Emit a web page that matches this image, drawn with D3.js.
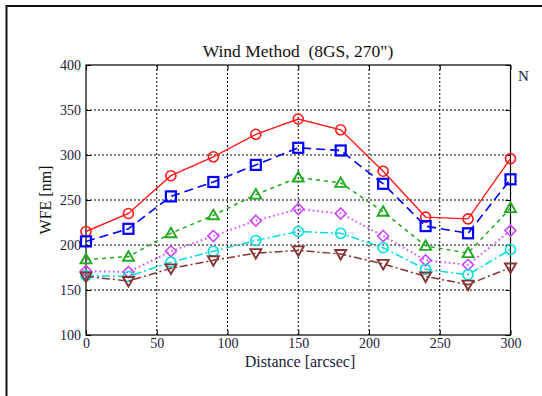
<!DOCTYPE html>
<html>
<head>
<meta charset="utf-8">
<script src="https://cdn.jsdelivr.net/npm/d3@7"></script>
<style>
  body { margin: 0; background: #fff; }
  svg { display: block; }
  text { font-family: "Liberation Serif", "Times New Roman", "DejaVu Serif", serif; }
</style>
</head>
<body>
<svg id="chart" width="542" height="396"></svg>
<script>
// distance samples (arcsec)
const distances = [0, 30, 60, 90, 120, 150, 180, 210, 240, 270, 300];
const xTicks = [0, 50, 100, 150, 200, 250, 300];
const yTicks = [100, 150, 200, 250, 300, 350, 400];

// WFE values per curve (nm)
const redVals     = [215, 235, 277, 298, 323, 340, 328, 282, 231, 229, 296];
const blueVals    = [204, 218, 254, 270, 289, 308, 305, 268, 221, 213, 273];
const greenVals   = [184, 187, 213, 233, 256, 275, 269, 237, 199, 191, 241];
const magentaVals = [171, 170, 193, 210, 227, 240, 235, 210, 183, 178, 216];
const cyanVals    = [166, 165, 181, 193, 205, 215, 213, 197, 173, 167, 195];
const brownVals   = [165, 160, 174, 183, 191, 194, 190, 179, 165, 156, 175];

const series = [
  { vals: redVals,     color: "#ff1a1a", dash: null,      marker: "circle",   sw: 1.4 },
  { vals: blueVals,    color: "#0000ff", dash: "9,5",     marker: "square",   sw: 1.6 },
  { vals: greenVals,   color: "#22aa22", dash: "4,4",     marker: "triangle", sw: 1.5 },
  { vals: magentaVals, color: "#cc44ff", dash: "1.5,3",   marker: "diamond",  sw: 1.9 },
  { vals: cyanVals,    color: "#00dddd", dash: "8,3,2,3", marker: "circle",   sw: 1.5 },
  { vals: brownVals,   color: "#883333", dash: "8,3,2,3", marker: "down",     sw: 1.5 }
];

const serif = "'Liberation Serif', 'Times New Roman', 'DejaVu Serif', serif";
const margin = { top: 65, left: 86, right: 542 - 510.5, bottom: 396 - 335 };
const width = 542, height = 396;

const svg = d3.select("#chart");

// outer figure frame (cut off on the right and bottom)
svg.append("rect")
  .attr("x", 6.5).attr("y", 6)
  .attr("width", 560).attr("height", 420)
  .attr("fill", "none").attr("stroke", "#111").attr("stroke-width", 2);

const x = d3.scaleLinear().domain([0, 300]).range([margin.left, width - margin.right]);
const y = d3.scaleLinear().domain([100, 400]).range([height - margin.bottom, margin.top]);

// grid
const grid = svg.append("g").attr("stroke", "#000").attr("stroke-width", 1).attr("stroke-dasharray", "2,2");
grid.selectAll(".gx").data(xTicks.slice(1, -1)).join("line")
  .attr("x1", d => x(d)).attr("x2", d => x(d))
  .attr("y1", y(100)).attr("y2", y(400));
grid.selectAll(".gy").data(yTicks.slice(1, -1)).join("line")
  .attr("y1", d => y(d)).attr("y2", d => y(d))
  .attr("x1", x(0)).attr("x2", x(300));

// axes (ticks pointing inward, box around)
const axisStyle = g => {
  g.attr("font-family", serif);
  g.select(".domain").remove();
  g.selectAll("line").attr("stroke", "#000");
  g.selectAll("text").attr("font-size", 14).attr("fill", "#1a1a3a").attr("font-family", serif);
};
svg.append("g").attr("transform", `translate(0,${y(100)})`)
  .call(d3.axisBottom(x).tickValues(xTicks).tickSize(-5).tickPadding(4))
  .call(axisStyle)
  .call(g => g.selectAll("text").attr("dy", null).attr("y", 13));
svg.append("g").attr("transform", `translate(${x(0)},0)`)
  .call(d3.axisLeft(y).tickValues(yTicks).tickSize(-5).tickPadding(5))
  .call(axisStyle);
svg.append("g").attr("transform", `translate(0,${y(400)})`)
  .call(d3.axisTop(x).tickValues(xTicks).tickSize(-5).tickFormat(""))
  .call(axisStyle);
svg.append("g").attr("transform", `translate(${x(300)},0)`)
  .call(d3.axisRight(y).tickValues(yTicks).tickSize(-5).tickFormat(""))
  .call(axisStyle);

svg.append("rect")
  .attr("x", x(0)).attr("y", y(400))
  .attr("width", x(300) - x(0)).attr("height", y(100) - y(400))
  .attr("fill", "none").attr("stroke", "#000").attr("stroke-width", 1.2);

// curves
const line = d3.line().x((d, i) => x(distances[i])).y(d => y(d));

series.forEach(s => {
  svg.append("path")
    .datum(s.vals)
    .attr("d", line)
    .attr("fill", "none")
    .attr("stroke", s.color)
    .attr("stroke-width", s.sw)
    .attr("stroke-dasharray", s.dash);

  const g = svg.append("g").attr("fill", "none").attr("stroke", s.color).attr("stroke-width", 1.6);
  s.vals.forEach((v, i) => {
    const cx = x(distances[i]), cy = y(v);
    if (s.marker === "circle") {
      g.append("circle").attr("cx", cx).attr("cy", cy).attr("r", 5);
    } else if (s.marker === "square") {
      g.append("rect").attr("x", cx - 5).attr("y", cy - 5)
        .attr("width", 10).attr("height", 10).attr("stroke-width", 2.2);
    } else if (s.marker === "triangle") {
      g.append("path").attr("d", `M${cx},${cy - 5.5}L${cx + 5.5},${cy + 4}L${cx - 5.5},${cy + 4}Z`)
        .attr("stroke-width", 1.9);
    } else if (s.marker === "down") {
      g.append("path").attr("d", `M${cx},${cy + 5.5}L${cx + 5.5},${cy - 4}L${cx - 5.5},${cy - 4}Z`)
        .attr("stroke-width", 1.9);
    } else if (s.marker === "diamond") {
      g.append("path").attr("d", `M${cx},${cy - 5.5}L${cx + 5.5},${cy}L${cx},${cy + 5.5}L${cx - 5.5},${cy}Z`);
    }
  });
});

// title and labels
svg.append("text")
  .attr("x", 298).attr("y", 57)
  .attr("text-anchor", "middle").attr("font-size", 17.5).attr("fill", "#111")
  .attr("font-family", serif)
  .attr("xml:space", "preserve")
  .text("Wind Method  (8GS, 270\")");

svg.append("text")
  .attr("x", 300).attr("y", 367)
  .attr("text-anchor", "middle").attr("font-size", 16).attr("fill", "#1a1a3a")
  .attr("font-family", serif)
  .text("Distance [arcsec]");

svg.append("text")
  .attr("transform", `translate(51,200) rotate(-90)`)
  .attr("text-anchor", "middle").attr("font-size", 16).attr("fill", "#111")
  .attr("font-family", serif)
  .text("WFE [nm]");

// clipped legend fragment on the right edge
svg.append("text")
  .attr("x", 518).attr("y", 81)
  .attr("font-size", 15).attr("fill", "#1a1a3a")
  .attr("font-family", serif)
  .text("N");
</script>
</body>
</html>
